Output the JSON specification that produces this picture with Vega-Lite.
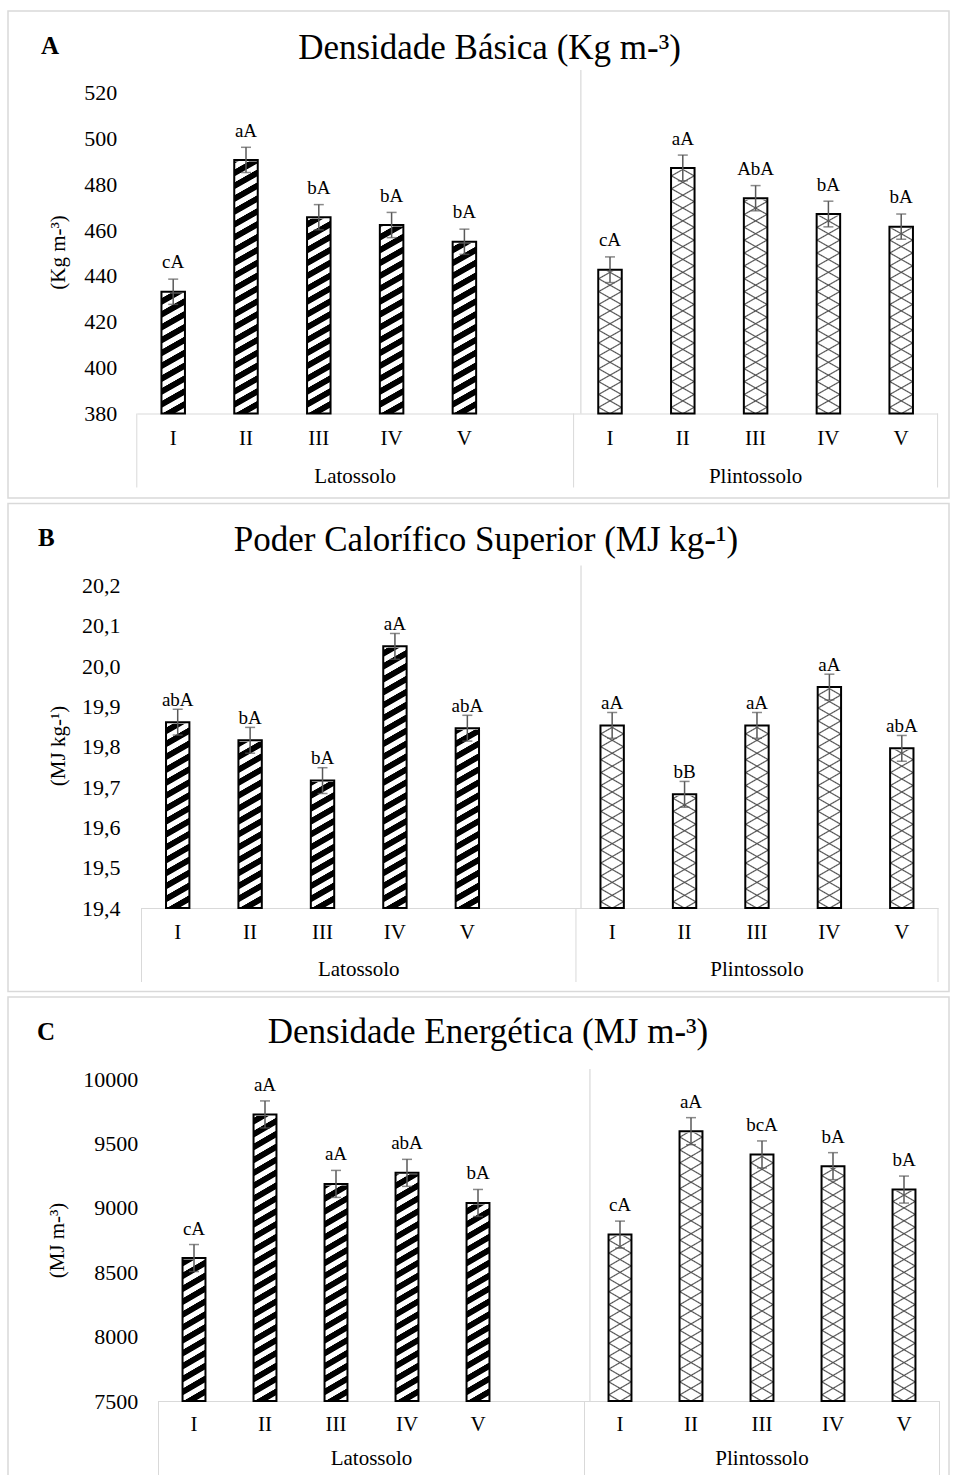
{
"$schema": "https://vega.github.io/schema/vega-lite/v6.json",
"padding": {"left": 7, "top": 10, "right": 4, "bottom": 0},
"spacing": 3.5,
"config": {
 "font": "Liberation Serif",
 "view": {"stroke": "#d9d9d9", "strokeWidth": 1.5},
 "axis": {"labelColor": "#000", "titleColor": "#000", "labelFont": "Liberation Serif", "titleFont": "Liberation Serif", "grid": false, "titleFontWeight": "normal"},
 "axisX": {"labelAlign": "center"},
 "title": {"font": "Liberation Serif", "fontSize": 35, "fontWeight": "normal", "color": "#000"},
 "text": {"color": "#000"},
 "style": {
  "listrado": {"color": {"gradient": "linear", "x1": 0, "y1": 0, "x2": 0.04307, "y2": 1.03965, "stops": [
{"offset":0.001,"color":"#000"},{"offset":0.019,"color":"#000"},{"offset":0.022,"color":"#fff"},{"offset":0.0375,"color":"#fff"},
{"offset":0.0395,"color":"#000"},{"offset":0.0575,"color":"#000"},{"offset":0.0605,"color":"#fff"},{"offset":0.076,"color":"#fff"},
{"offset":0.0779,"color":"#000"},{"offset":0.0959,"color":"#000"},{"offset":0.0989,"color":"#fff"},{"offset":0.1144,"color":"#fff"},
{"offset":0.1164,"color":"#000"},{"offset":0.1344,"color":"#000"},{"offset":0.1374,"color":"#fff"},{"offset":0.1529,"color":"#fff"},
{"offset":0.1549,"color":"#000"},{"offset":0.1729,"color":"#000"},{"offset":0.1759,"color":"#fff"},{"offset":0.1914,"color":"#fff"},
{"offset":0.1933,"color":"#000"},{"offset":0.2113,"color":"#000"},{"offset":0.2143,"color":"#fff"},{"offset":0.2298,"color":"#fff"},
{"offset":0.2318,"color":"#000"},{"offset":0.2498,"color":"#000"},{"offset":0.2528,"color":"#fff"},{"offset":0.2683,"color":"#fff"},
{"offset":0.2702,"color":"#000"},{"offset":0.2882,"color":"#000"},{"offset":0.2912,"color":"#fff"},{"offset":0.3067,"color":"#fff"},
{"offset":0.3087,"color":"#000"},{"offset":0.3267,"color":"#000"},{"offset":0.3297,"color":"#fff"},{"offset":0.3452,"color":"#fff"},
{"offset":0.3472,"color":"#000"},{"offset":0.3652,"color":"#000"},{"offset":0.3682,"color":"#fff"},{"offset":0.3837,"color":"#fff"},
{"offset":0.3856,"color":"#000"},{"offset":0.4036,"color":"#000"},{"offset":0.4066,"color":"#fff"},{"offset":0.4221,"color":"#fff"},
{"offset":0.4241,"color":"#000"},{"offset":0.4421,"color":"#000"},{"offset":0.4451,"color":"#fff"},{"offset":0.4606,"color":"#fff"},
{"offset":0.4625,"color":"#000"},{"offset":0.4805,"color":"#000"},{"offset":0.4835,"color":"#fff"},{"offset":0.499,"color":"#fff"},
{"offset":0.501,"color":"#000"},{"offset":0.519,"color":"#000"},{"offset":0.522,"color":"#fff"},{"offset":0.5375,"color":"#fff"},
{"offset":0.5395,"color":"#000"},{"offset":0.5575,"color":"#000"},{"offset":0.5605,"color":"#fff"},{"offset":0.576,"color":"#fff"},
{"offset":0.5779,"color":"#000"},{"offset":0.5959,"color":"#000"},{"offset":0.5989,"color":"#fff"},{"offset":0.6144,"color":"#fff"},
{"offset":0.6164,"color":"#000"},{"offset":0.6344,"color":"#000"},{"offset":0.6374,"color":"#fff"},{"offset":0.6529,"color":"#fff"},
{"offset":0.6549,"color":"#000"},{"offset":0.6729,"color":"#000"},{"offset":0.6759,"color":"#fff"},{"offset":0.6914,"color":"#fff"},
{"offset":0.6933,"color":"#000"},{"offset":0.7113,"color":"#000"},{"offset":0.7143,"color":"#fff"},{"offset":0.7298,"color":"#fff"},
{"offset":0.7318,"color":"#000"},{"offset":0.7498,"color":"#000"},{"offset":0.7528,"color":"#fff"},{"offset":0.7683,"color":"#fff"},
{"offset":0.7702,"color":"#000"},{"offset":0.7882,"color":"#000"},{"offset":0.7912,"color":"#fff"},{"offset":0.8067,"color":"#fff"},
{"offset":0.8087,"color":"#000"},{"offset":0.8267,"color":"#000"},{"offset":0.8297,"color":"#fff"},{"offset":0.8452,"color":"#fff"},
{"offset":0.8472,"color":"#000"},{"offset":0.8652,"color":"#000"},{"offset":0.8682,"color":"#fff"},{"offset":0.8837,"color":"#fff"},
{"offset":0.8856,"color":"#000"},{"offset":0.9036,"color":"#000"},{"offset":0.9066,"color":"#fff"},{"offset":0.9221,"color":"#fff"},
{"offset":0.9241,"color":"#000"},{"offset":0.9421,"color":"#000"},{"offset":0.9451,"color":"#fff"},{"offset":0.9606,"color":"#fff"},
{"offset":0.9625,"color":"#000"},{"offset":0.9805,"color":"#000"},{"offset":0.9835,"color":"#fff"},{"offset":0.999,"color":"#fff"}
  ]}},
  "trama1": {"color": {"gradient": "linear", "x1": 0, "y1": 0, "x2": 0.04307, "y2": 1.03965, "stops": [
{"offset":0.0154,"color":"rgba(77,77,77,0)"},{"offset":0.0192,"color":"#4d4d4d"},{"offset":0.0231,"color":"rgba(77,77,77,0)"},
{"offset":0.0539,"color":"rgba(77,77,77,0)"},{"offset":0.0577,"color":"#4d4d4d"},{"offset":0.0616,"color":"rgba(77,77,77,0)"},
{"offset":0.0923,"color":"rgba(77,77,77,0)"},{"offset":0.0961,"color":"#4d4d4d"},{"offset":0.1,"color":"rgba(77,77,77,0)"},
{"offset":0.1308,"color":"rgba(77,77,77,0)"},{"offset":0.1346,"color":"#4d4d4d"},{"offset":0.1385,"color":"rgba(77,77,77,0)"},
{"offset":0.1692,"color":"rgba(77,77,77,0)"},{"offset":0.1731,"color":"#4d4d4d"},{"offset":0.1769,"color":"rgba(77,77,77,0)"},
{"offset":0.2077,"color":"rgba(77,77,77,0)"},{"offset":0.2115,"color":"#4d4d4d"},{"offset":0.2154,"color":"rgba(77,77,77,0)"},
{"offset":0.2462,"color":"rgba(77,77,77,0)"},{"offset":0.25,"color":"#4d4d4d"},{"offset":0.2539,"color":"rgba(77,77,77,0)"},
{"offset":0.2846,"color":"rgba(77,77,77,0)"},{"offset":0.2884,"color":"#4d4d4d"},{"offset":0.2923,"color":"rgba(77,77,77,0)"},
{"offset":0.3231,"color":"rgba(77,77,77,0)"},{"offset":0.3269,"color":"#4d4d4d"},{"offset":0.3308,"color":"rgba(77,77,77,0)"},
{"offset":0.3616,"color":"rgba(77,77,77,0)"},{"offset":0.3654,"color":"#4d4d4d"},{"offset":0.3693,"color":"rgba(77,77,77,0)"},
{"offset":0.4,"color":"rgba(77,77,77,0)"},{"offset":0.4038,"color":"#4d4d4d"},{"offset":0.4077,"color":"rgba(77,77,77,0)"},
{"offset":0.4385,"color":"rgba(77,77,77,0)"},{"offset":0.4423,"color":"#4d4d4d"},{"offset":0.4462,"color":"rgba(77,77,77,0)"},
{"offset":0.4769,"color":"rgba(77,77,77,0)"},{"offset":0.4807,"color":"#4d4d4d"},{"offset":0.4846,"color":"rgba(77,77,77,0)"},
{"offset":0.5154,"color":"rgba(77,77,77,0)"},{"offset":0.5192,"color":"#4d4d4d"},{"offset":0.5231,"color":"rgba(77,77,77,0)"},
{"offset":0.5539,"color":"rgba(77,77,77,0)"},{"offset":0.5577,"color":"#4d4d4d"},{"offset":0.5616,"color":"rgba(77,77,77,0)"},
{"offset":0.5923,"color":"rgba(77,77,77,0)"},{"offset":0.5961,"color":"#4d4d4d"},{"offset":0.6,"color":"rgba(77,77,77,0)"},
{"offset":0.6308,"color":"rgba(77,77,77,0)"},{"offset":0.6346,"color":"#4d4d4d"},{"offset":0.6385,"color":"rgba(77,77,77,0)"},
{"offset":0.6692,"color":"rgba(77,77,77,0)"},{"offset":0.6731,"color":"#4d4d4d"},{"offset":0.6769,"color":"rgba(77,77,77,0)"},
{"offset":0.7077,"color":"rgba(77,77,77,0)"},{"offset":0.7115,"color":"#4d4d4d"},{"offset":0.7154,"color":"rgba(77,77,77,0)"},
{"offset":0.7462,"color":"rgba(77,77,77,0)"},{"offset":0.75,"color":"#4d4d4d"},{"offset":0.7539,"color":"rgba(77,77,77,0)"},
{"offset":0.7846,"color":"rgba(77,77,77,0)"},{"offset":0.7884,"color":"#4d4d4d"},{"offset":0.7923,"color":"rgba(77,77,77,0)"},
{"offset":0.8231,"color":"rgba(77,77,77,0)"},{"offset":0.8269,"color":"#4d4d4d"},{"offset":0.8308,"color":"rgba(77,77,77,0)"},
{"offset":0.8616,"color":"rgba(77,77,77,0)"},{"offset":0.8654,"color":"#4d4d4d"},{"offset":0.8693,"color":"rgba(77,77,77,0)"},
{"offset":0.9,"color":"rgba(77,77,77,0)"},{"offset":0.9038,"color":"#4d4d4d"},{"offset":0.9077,"color":"rgba(77,77,77,0)"},
{"offset":0.9385,"color":"rgba(77,77,77,0)"},{"offset":0.9423,"color":"#4d4d4d"},{"offset":0.9462,"color":"rgba(77,77,77,0)"},
{"offset":0.9769,"color":"rgba(77,77,77,0)"},{"offset":0.9807,"color":"#4d4d4d"},{"offset":0.9846,"color":"rgba(77,77,77,0)"}
  ]}},
  "trama2": {"color": {"gradient": "linear", "x1": 1, "y1": 0, "x2": 0.95693, "y2": 1.03965, "stops": [
{"offset":0.0154,"color":"rgba(77,77,77,0)"},{"offset":0.0192,"color":"#4d4d4d"},{"offset":0.0231,"color":"rgba(77,77,77,0)"},
{"offset":0.0539,"color":"rgba(77,77,77,0)"},{"offset":0.0577,"color":"#4d4d4d"},{"offset":0.0616,"color":"rgba(77,77,77,0)"},
{"offset":0.0923,"color":"rgba(77,77,77,0)"},{"offset":0.0961,"color":"#4d4d4d"},{"offset":0.1,"color":"rgba(77,77,77,0)"},
{"offset":0.1308,"color":"rgba(77,77,77,0)"},{"offset":0.1346,"color":"#4d4d4d"},{"offset":0.1385,"color":"rgba(77,77,77,0)"},
{"offset":0.1692,"color":"rgba(77,77,77,0)"},{"offset":0.1731,"color":"#4d4d4d"},{"offset":0.1769,"color":"rgba(77,77,77,0)"},
{"offset":0.2077,"color":"rgba(77,77,77,0)"},{"offset":0.2115,"color":"#4d4d4d"},{"offset":0.2154,"color":"rgba(77,77,77,0)"},
{"offset":0.2462,"color":"rgba(77,77,77,0)"},{"offset":0.25,"color":"#4d4d4d"},{"offset":0.2539,"color":"rgba(77,77,77,0)"},
{"offset":0.2846,"color":"rgba(77,77,77,0)"},{"offset":0.2884,"color":"#4d4d4d"},{"offset":0.2923,"color":"rgba(77,77,77,0)"},
{"offset":0.3231,"color":"rgba(77,77,77,0)"},{"offset":0.3269,"color":"#4d4d4d"},{"offset":0.3308,"color":"rgba(77,77,77,0)"},
{"offset":0.3616,"color":"rgba(77,77,77,0)"},{"offset":0.3654,"color":"#4d4d4d"},{"offset":0.3693,"color":"rgba(77,77,77,0)"},
{"offset":0.4,"color":"rgba(77,77,77,0)"},{"offset":0.4038,"color":"#4d4d4d"},{"offset":0.4077,"color":"rgba(77,77,77,0)"},
{"offset":0.4385,"color":"rgba(77,77,77,0)"},{"offset":0.4423,"color":"#4d4d4d"},{"offset":0.4462,"color":"rgba(77,77,77,0)"},
{"offset":0.4769,"color":"rgba(77,77,77,0)"},{"offset":0.4807,"color":"#4d4d4d"},{"offset":0.4846,"color":"rgba(77,77,77,0)"},
{"offset":0.5154,"color":"rgba(77,77,77,0)"},{"offset":0.5192,"color":"#4d4d4d"},{"offset":0.5231,"color":"rgba(77,77,77,0)"},
{"offset":0.5539,"color":"rgba(77,77,77,0)"},{"offset":0.5577,"color":"#4d4d4d"},{"offset":0.5616,"color":"rgba(77,77,77,0)"},
{"offset":0.5923,"color":"rgba(77,77,77,0)"},{"offset":0.5961,"color":"#4d4d4d"},{"offset":0.6,"color":"rgba(77,77,77,0)"},
{"offset":0.6308,"color":"rgba(77,77,77,0)"},{"offset":0.6346,"color":"#4d4d4d"},{"offset":0.6385,"color":"rgba(77,77,77,0)"},
{"offset":0.6692,"color":"rgba(77,77,77,0)"},{"offset":0.6731,"color":"#4d4d4d"},{"offset":0.6769,"color":"rgba(77,77,77,0)"},
{"offset":0.7077,"color":"rgba(77,77,77,0)"},{"offset":0.7115,"color":"#4d4d4d"},{"offset":0.7154,"color":"rgba(77,77,77,0)"},
{"offset":0.7462,"color":"rgba(77,77,77,0)"},{"offset":0.75,"color":"#4d4d4d"},{"offset":0.7539,"color":"rgba(77,77,77,0)"},
{"offset":0.7846,"color":"rgba(77,77,77,0)"},{"offset":0.7884,"color":"#4d4d4d"},{"offset":0.7923,"color":"rgba(77,77,77,0)"},
{"offset":0.8231,"color":"rgba(77,77,77,0)"},{"offset":0.8269,"color":"#4d4d4d"},{"offset":0.8308,"color":"rgba(77,77,77,0)"},
{"offset":0.8616,"color":"rgba(77,77,77,0)"},{"offset":0.8654,"color":"#4d4d4d"},{"offset":0.8693,"color":"rgba(77,77,77,0)"},
{"offset":0.9,"color":"rgba(77,77,77,0)"},{"offset":0.9038,"color":"#4d4d4d"},{"offset":0.9077,"color":"rgba(77,77,77,0)"},
{"offset":0.9385,"color":"rgba(77,77,77,0)"},{"offset":0.9423,"color":"#4d4d4d"},{"offset":0.9462,"color":"rgba(77,77,77,0)"},
{"offset":0.9769,"color":"rgba(77,77,77,0)"},{"offset":0.9807,"color":"#4d4d4d"},{"offset":0.9846,"color":"rgba(77,77,77,0)"}
  ]}}
 }
},
"datasets": {
 "densidade": [
  {"solo":"Latossolo","trat":"I","cat":"Latossolo-I","valor":433.1,"erro":5.5,"letra":"cA"},
  {"solo":"Latossolo","trat":"II","cat":"Latossolo-II","valor":490.6,"erro":5.5,"letra":"aA"},
  {"solo":"Latossolo","trat":"III","cat":"Latossolo-III","valor":465.6,"erro":5.5,"letra":"bA"},
  {"solo":"Latossolo","trat":"IV","cat":"Latossolo-IV","valor":462.2,"erro":5.5,"letra":"bA"},
  {"solo":"Latossolo","trat":"V","cat":"Latossolo-V","valor":454.9,"erro":5.5,"letra":"bA"},
  {"solo":"Plintossolo","trat":"I","cat":"Plintossolo-I","valor":442.7,"erro":5.6,"letra":"cA"},
  {"solo":"Plintossolo","trat":"II","cat":"Plintossolo-II","valor":487.1,"erro":5.6,"letra":"aA"},
  {"solo":"Plintossolo","trat":"III","cat":"Plintossolo-III","valor":473.9,"erro":5.5,"letra":"AbA"},
  {"solo":"Plintossolo","trat":"IV","cat":"Plintossolo-IV","valor":467.0,"erro":5.6,"letra":"bA"},
  {"solo":"Plintossolo","trat":"V","cat":"Plintossolo-V","valor":461.5,"erro":5.5,"letra":"bA"}
 ],
 "poder": [
  {"solo":"Latossolo","trat":"I","cat":"Latossolo-I","valor":19.861,"erro":0.032,"letra":"abA"},
  {"solo":"Latossolo","trat":"II","cat":"Latossolo-II","valor":19.816,"erro":0.032,"letra":"bA"},
  {"solo":"Latossolo","trat":"III","cat":"Latossolo-III","valor":19.716,"erro":0.032,"letra":"bA"},
  {"solo":"Latossolo","trat":"IV","cat":"Latossolo-IV","valor":20.049,"erro":0.032,"letra":"aA"},
  {"solo":"Latossolo","trat":"V","cat":"Latossolo-V","valor":19.846,"erro":0.032,"letra":"abA"},
  {"solo":"Plintossolo","trat":"I","cat":"Plintossolo-I","valor":19.853,"erro":0.032,"letra":"aA"},
  {"solo":"Plintossolo","trat":"II","cat":"Plintossolo-II","valor":19.682,"erro":0.032,"letra":"bB"},
  {"solo":"Plintossolo","trat":"III","cat":"Plintossolo-III","valor":19.853,"erro":0.032,"letra":"aA"},
  {"solo":"Plintossolo","trat":"IV","cat":"Plintossolo-IV","valor":19.948,"erro":0.032,"letra":"aA"},
  {"solo":"Plintossolo","trat":"V","cat":"Plintossolo-V","valor":19.796,"erro":0.032,"letra":"abA"}
 ],
 "energetica": [
  {"solo":"Latossolo","trat":"I","cat":"Latossolo-I","valor":8611,"erro":105,"letra":"cA"},
  {"solo":"Latossolo","trat":"II","cat":"Latossolo-II","valor":9727,"erro":105,"letra":"aA"},
  {"solo":"Latossolo","trat":"III","cat":"Latossolo-III","valor":9187,"erro":105,"letra":"aA"},
  {"solo":"Latossolo","trat":"IV","cat":"Latossolo-IV","valor":9273,"erro":105,"letra":"abA"},
  {"solo":"Latossolo","trat":"V","cat":"Latossolo-V","valor":9039,"erro":105,"letra":"bA"},
  {"solo":"Plintossolo","trat":"I","cat":"Plintossolo-I","valor":8793,"erro":105,"letra":"cA"},
  {"solo":"Plintossolo","trat":"II","cat":"Plintossolo-II","valor":9597,"erro":105,"letra":"aA"},
  {"solo":"Plintossolo","trat":"III","cat":"Plintossolo-III","valor":9416,"erro":105,"letra":"bcA"},
  {"solo":"Plintossolo","trat":"IV","cat":"Plintossolo-IV","valor":9325,"erro":105,"letra":"bA"},
  {"solo":"Plintossolo","trat":"V","cat":"Plintossolo-V","valor":9143,"erro":105,"letra":"bA"}
 ]
},
"vconcat": [
 {
  "width": 941, "height": 487,
  "data": {"name": "densidade"},
  "title": {"text": "Densidade Básica (Kg m-³)", "anchor": "middle", "frame": "group", "offset": -83.3, "baseline": "alphabetic", "dx": 11},
  "layer": [
   {"transform": [{"filter": "datum.solo == 'Latossolo'"}],
    "mark": {"type": "bar", "style": "listrado", "width": {"band": 0.3228}},
    "encoding": {"x": {"field": "cat", "type": "nominal"}, "y": {"datum": 380, "type": "quantitative"}, "y2": {"datum": 520}}},
   {"transform": [{"filter": "datum.solo == 'Plintossolo'"}],
    "mark": {"type": "bar", "style": "trama1", "width": {"band": 0.3228}},
    "encoding": {"x": {"field": "cat", "type": "nominal"}, "y": {"datum": 380, "type": "quantitative"}, "y2": {"datum": 520}}},
   {"transform": [{"filter": "datum.solo == 'Plintossolo'"}],
    "mark": {"type": "bar", "style": "trama2", "width": {"band": 0.3228}},
    "encoding": {"x": {"field": "cat", "type": "nominal"}, "y": {"datum": 380, "type": "quantitative"}, "y2": {"datum": 520}}},
   {"mark": {"type": "bar", "width": {"band": 0.3228}, "fill": "#fff", "stroke": "#fff", "strokeWidth": 3},
    "encoding": {"x": {"field": "cat", "type": "nominal"}, "y": {"field": "valor", "type": "quantitative", "title": "(Kg m-³)"}, "y2": {"datum": 520}}},
   {"mark": {"type": "bar", "width": {"band": 0.3228}, "fillOpacity": 0, "stroke": "#000", "strokeWidth": 2},
    "encoding": {
     "x": {"field": "cat", "type": "nominal",
      "scale": {"type": "band", "domain": ["Latossolo-I","Latossolo-II","Latossolo-III","Latossolo-IV","Latossolo-V","Latossolo-","Plintossolo-I","Plintossolo-II","Plintossolo-III","Plintossolo-IV","Plintossolo-V"], "range": [128.8, 929.6], "paddingInner": 0, "paddingOuter": 0},
      "axis": {"title": null, "offset": -84.5, "domainColor": "#d9d9d9", "domainWidth": 1, "ticks": false, "tickSize": 0, "labelPadding": 24.5, "labelBaseline": "middle", "labelAlign": "center", "labelAngle": 0, "labelFontSize": 21, "labelExpr": "split(datum.label, '-')[1]"}},
     "y": {"field": "valor", "type": "quantitative", "title": "(Kg m-³)",
      "scale": {"domain": [380, 520], "range": [402.5, 81.5], "zero": false, "nice": false},
      "axis": {"title": "(Kg m-³)", "offset": -128.8, "domain": false, "ticks": false, "tickSize": 0, "values": [380,400,420,440,460,480,500,520], "format": "d", "labelPadding": 20, "labelFontSize": 22, "titleFontSize": 21, "titleX": -78.8, "titleY": 241, "titleAngle": -90, "titleAlign": "center", "titleBaseline": "middle"}},
     "y2": {"datum": 380}}},
   {"mark": {"type": "errorbar", "ticks": true, "color": "#595959", "thickness": 1.5, "size": 10},
    "encoding": {"x": {"field": "cat", "type": "nominal"}, "y": {"field": "valor", "type": "quantitative", "title": "(Kg m-³)"}, "yError": {"field": "erro"}}},
   {"mark": {"type": "text", "dy": -23.3, "baseline": "alphabetic", "fontSize": 19},
    "encoding": {"x": {"field": "cat", "type": "nominal"}, "y": {"field": "valor", "type": "quantitative", "title": "(Kg m-³)"}, "text": {"field": "letra"}}},
   {"transform": [{"filter": "datum.cat == 'Plintossolo-I'"}],
    "mark": {"type": "rule", "color": "#d0d0d0", "strokeWidth": 1},
    "encoding": {"x": {"field": "cat", "type": "nominal", "bandPosition": 0.1}, "y": {"datum": 380, "type": "quantitative"}, "y2": {"datum": 529.8}}},
   {"transform": [{"filter": "datum.trat == 'I'"}],
    "mark": {"type": "rule", "color": "#d9d9d9", "strokeWidth": 1},
    "encoding": {"x": {"field": "cat", "type": "nominal", "bandPosition": 0}, "y": {"datum": 380, "type": "quantitative"}, "y2": {"datum": 347.73}}},
   {"transform": [{"filter": "datum.cat == 'Plintossolo-V'"}],
    "mark": {"type": "rule", "color": "#d9d9d9", "strokeWidth": 1},
    "encoding": {"x": {"field": "cat", "type": "nominal", "bandPosition": 1}, "y": {"datum": 380, "type": "quantitative"}, "y2": {"datum": 347.73}}},
   {"transform": [{"filter": "datum.cat == 'Latossolo-III'"}],
    "mark": {"type": "text", "fontSize": 21, "baseline": "middle"},
    "encoding": {"x": {"field": "cat", "type": "nominal", "bandPosition": 1}, "y": {"datum": 352.3, "type": "quantitative"}, "text": {"field": "solo"}}},
   {"transform": [{"filter": "datum.cat == 'Plintossolo-III'"}],
    "mark": {"type": "text", "fontSize": 21, "baseline": "middle"},
    "encoding": {"x": {"field": "cat", "type": "nominal", "bandPosition": 0.5}, "y": {"datum": 352.3, "type": "quantitative"}, "text": {"field": "solo"}}},
   {"transform": [{"filter": "datum.cat == 'Latossolo-I'"}],
    "mark": {"type": "text", "text": "A", "fontSize": 25, "fontWeight": "bold", "align": "left", "baseline": "alphabetic"},
    "encoding": {"x": {"field": "cat", "type": "nominal", "bandPosition": -1.316}, "y": {"datum": 536.8, "type": "quantitative"}}}
  ]
 },
 {
  "width": 941, "height": 488,
  "data": {"name": "poder"},
  "title": {"text": "Poder Calorífico Superior (MJ kg-¹)", "anchor": "middle", "frame": "group", "offset": -82, "baseline": "alphabetic", "dx": 7.5},
  "layer": [
   {"transform": [{"filter": "datum.solo == 'Latossolo'"}],
    "mark": {"type": "bar", "style": "listrado", "width": {"band": 0.3228}},
    "encoding": {"x": {"field": "cat", "type": "nominal"}, "y": {"datum": 19.4, "type": "quantitative"}, "y2": {"datum": 20.2}}},
   {"transform": [{"filter": "datum.solo == 'Plintossolo'"}],
    "mark": {"type": "bar", "style": "trama1", "width": {"band": 0.3228}},
    "encoding": {"x": {"field": "cat", "type": "nominal"}, "y": {"datum": 19.4, "type": "quantitative"}, "y2": {"datum": 20.2}}},
   {"transform": [{"filter": "datum.solo == 'Plintossolo'"}],
    "mark": {"type": "bar", "style": "trama2", "width": {"band": 0.3228}},
    "encoding": {"x": {"field": "cat", "type": "nominal"}, "y": {"datum": 19.4, "type": "quantitative"}, "y2": {"datum": 20.2}}},
   {"mark": {"type": "bar", "width": {"band": 0.3228}, "fill": "#fff", "stroke": "#fff", "strokeWidth": 3},
    "encoding": {"x": {"field": "cat", "type": "nominal"}, "y": {"field": "valor", "type": "quantitative", "title": "(MJ kg-¹)"}, "y2": {"datum": 20.2}}},
   {"mark": {"type": "bar", "width": {"band": 0.3228}, "fillOpacity": 0, "stroke": "#000", "strokeWidth": 2},
    "encoding": {
     "x": {"field": "cat", "type": "nominal",
      "scale": {"type": "band", "domain": ["Latossolo-I","Latossolo-II","Latossolo-III","Latossolo-IV","Latossolo-V","Latossolo-","Plintossolo-I","Plintossolo-II","Plintossolo-III","Plintossolo-IV","Plintossolo-V"], "range": [133.5, 930], "paddingInner": 0, "paddingOuter": 0},
      "axis": {"title": null, "offset": -83.5, "domainColor": "#d9d9d9", "domainWidth": 1, "ticks": false, "tickSize": 0, "labelPadding": 24.2, "labelBaseline": "middle", "labelAlign": "center", "labelAngle": 0, "labelFontSize": 21, "labelExpr": "split(datum.label, '-')[1]"}},
     "y": {"field": "valor", "type": "quantitative", "title": "(MJ kg-¹)",
      "scale": {"domain": [19.4, 20.2], "range": [404.5, 82], "zero": false, "nice": false},
      "axis": {"title": "(MJ kg-¹)", "offset": -133.5, "domain": false, "ticks": false, "tickSize": 0, "values": [19.4,19.5,19.6,19.7,19.8,19.9,20.0,20.1,20.2], "labelExpr": "replace(format(datum.value, '.1f'), '.', ',')", "labelPadding": 21.5, "labelFontSize": 22, "titleFontSize": 21, "titleX": -83, "titleY": 242, "titleAngle": -90, "titleAlign": "center", "titleBaseline": "middle"}},
     "y2": {"datum": 19.4}}},
   {"mark": {"type": "errorbar", "ticks": true, "color": "#595959", "thickness": 1.5, "size": 10},
    "encoding": {"x": {"field": "cat", "type": "nominal"}, "y": {"field": "valor", "type": "quantitative", "title": "(MJ kg-¹)"}, "yError": {"field": "erro"}}},
   {"mark": {"type": "text", "dy": -16.4, "baseline": "alphabetic", "fontSize": 19},
    "encoding": {"x": {"field": "cat", "type": "nominal"}, "y": {"field": "valor", "type": "quantitative", "title": "(MJ kg-¹)"}, "text": {"field": "letra"}}},
   {"transform": [{"filter": "datum.cat == 'Plintossolo-I'"}],
    "mark": {"type": "rule", "color": "#d0d0d0", "strokeWidth": 1},
    "encoding": {"x": {"field": "cat", "type": "nominal", "bandPosition": 0.07}, "y": {"datum": 19.4, "type": "quantitative"}, "y2": {"datum": 20.2496}}},
   {"transform": [{"filter": "datum.trat == 'I'"}],
    "mark": {"type": "rule", "color": "#d9d9d9", "strokeWidth": 1},
    "encoding": {"x": {"field": "cat", "type": "nominal", "bandPosition": 0}, "y": {"datum": 19.4, "type": "quantitative"}, "y2": {"datum": 19.2164}}},
   {"transform": [{"filter": "datum.cat == 'Plintossolo-V'"}],
    "mark": {"type": "rule", "color": "#d9d9d9", "strokeWidth": 1},
    "encoding": {"x": {"field": "cat", "type": "nominal", "bandPosition": 1}, "y": {"datum": 19.4, "type": "quantitative"}, "y2": {"datum": 19.2164}}},
   {"transform": [{"filter": "datum.cat == 'Latossolo-III'"}],
    "mark": {"type": "text", "fontSize": 21, "baseline": "middle"},
    "encoding": {"x": {"field": "cat", "type": "nominal", "bandPosition": 1}, "y": {"datum": 19.2467, "type": "quantitative"}, "text": {"field": "solo"}}},
   {"transform": [{"filter": "datum.cat == 'Plintossolo-III'"}],
    "mark": {"type": "text", "fontSize": 21, "baseline": "middle"},
    "encoding": {"x": {"field": "cat", "type": "nominal", "bandPosition": 0.5}, "y": {"datum": 19.2467, "type": "quantitative"}, "text": {"field": "solo"}}},
   {"transform": [{"filter": "datum.cat == 'Latossolo-I'"}],
    "mark": {"type": "text", "text": "B", "fontSize": 25, "fontWeight": "bold", "align": "left", "baseline": "alphabetic"},
    "encoding": {"x": {"field": "cat", "type": "nominal", "bandPosition": -1.429}, "y": {"datum": 20.2992, "type": "quantitative"}}}
  ]
 },
 {
  "width": 941, "height": 484,
  "data": {"name": "energetica"},
  "title": {"text": "Densidade Energética (MJ m-³)", "anchor": "middle", "frame": "group", "offset": -80.7, "baseline": "alphabetic", "dx": 9.5},
  "layer": [
   {"transform": [{"filter": "datum.solo == 'Latossolo'"}],
    "mark": {"type": "bar", "style": "listrado", "width": {"band": 0.3228}},
    "encoding": {"x": {"field": "cat", "type": "nominal"}, "y": {"datum": 7500, "type": "quantitative"}, "y2": {"datum": 10000}}},
   {"transform": [{"filter": "datum.solo == 'Plintossolo'"}],
    "mark": {"type": "bar", "style": "trama1", "width": {"band": 0.3228}},
    "encoding": {"x": {"field": "cat", "type": "nominal"}, "y": {"datum": 7500, "type": "quantitative"}, "y2": {"datum": 10000}}},
   {"transform": [{"filter": "datum.solo == 'Plintossolo'"}],
    "mark": {"type": "bar", "style": "trama2", "width": {"band": 0.3228}},
    "encoding": {"x": {"field": "cat", "type": "nominal"}, "y": {"datum": 7500, "type": "quantitative"}, "y2": {"datum": 10000}}},
   {"mark": {"type": "bar", "width": {"band": 0.3228}, "fill": "#fff", "stroke": "#fff", "strokeWidth": 3},
    "encoding": {"x": {"field": "cat", "type": "nominal"}, "y": {"field": "valor", "type": "quantitative", "title": "(MJ m-³)"}, "y2": {"datum": 10000}}},
   {"mark": {"type": "bar", "width": {"band": 0.3228}, "fillOpacity": 0, "stroke": "#000", "strokeWidth": 2},
    "encoding": {
     "x": {"field": "cat", "type": "nominal",
      "scale": {"type": "band", "domain": ["Latossolo-I","Latossolo-II","Latossolo-III","Latossolo-IV","Latossolo-V","Latossolo-","Plintossolo-I","Plintossolo-II","Plintossolo-III","Plintossolo-IV","Plintossolo-V"], "range": [150.5, 931.5], "paddingInner": 0, "paddingOuter": 0},
      "axis": {"title": null, "offset": -80, "domainColor": "#d9d9d9", "domainWidth": 1, "ticks": false, "tickSize": 0, "labelPadding": 23.3, "labelBaseline": "middle", "labelAlign": "center", "labelAngle": 0, "labelFontSize": 21, "labelExpr": "split(datum.label, '-')[1]"}},
     "y": {"field": "valor", "type": "quantitative", "title": "(MJ m-³)",
      "scale": {"domain": [7500, 10000], "range": [404, 82.3], "zero": false, "nice": false},
      "axis": {"title": "(MJ m-³)", "offset": -150.5, "domain": false, "ticks": false, "tickSize": 0, "values": [7500,8000,8500,9000,9500,10000], "format": "d", "labelPadding": 20.8, "labelFontSize": 22, "titleFontSize": 21, "titleX": -101, "titleY": 243, "titleAngle": -90, "titleAlign": "center", "titleBaseline": "middle"}},
     "y2": {"datum": 7500}}},
   {"mark": {"type": "errorbar", "ticks": true, "color": "#595959", "thickness": 1.5, "size": 10},
    "encoding": {"x": {"field": "cat", "type": "nominal"}, "y": {"field": "valor", "type": "quantitative", "title": "(MJ m-³)"}, "yError": {"field": "erro"}}},
   {"mark": {"type": "text", "dy": -23.5, "baseline": "alphabetic", "fontSize": 19},
    "encoding": {"x": {"field": "cat", "type": "nominal"}, "y": {"field": "valor", "type": "quantitative", "title": "(MJ m-³)"}, "text": {"field": "letra"}}},
   {"transform": [{"filter": "datum.cat == 'Plintossolo-I'"}],
    "mark": {"type": "rule", "color": "#d0d0d0", "strokeWidth": 1},
    "encoding": {"x": {"field": "cat", "type": "nominal", "bandPosition": 0.077}, "y": {"datum": 7500, "type": "quantitative"}, "y2": {"datum": 10080}}},
   {"transform": [{"filter": "datum.trat == 'I'"}],
    "mark": {"type": "rule", "color": "#d9d9d9", "strokeWidth": 1},
    "encoding": {"x": {"field": "cat", "type": "nominal", "bandPosition": 0}, "y": {"datum": 7500, "type": "quantitative"}, "y2": {"datum": 6925}}},
   {"transform": [{"filter": "datum.cat == 'Plintossolo-V'"}],
    "mark": {"type": "rule", "color": "#d9d9d9", "strokeWidth": 1},
    "encoding": {"x": {"field": "cat", "type": "nominal", "bandPosition": 1}, "y": {"datum": 7500, "type": "quantitative"}, "y2": {"datum": 6925}}},
   {"transform": [{"filter": "datum.cat == 'Latossolo-III'"}],
    "mark": {"type": "text", "fontSize": 21, "baseline": "middle"},
    "encoding": {"x": {"field": "cat", "type": "nominal", "bandPosition": 1}, "y": {"datum": 7047, "type": "quantitative"}, "text": {"field": "solo"}}},
   {"transform": [{"filter": "datum.cat == 'Plintossolo-III'"}],
    "mark": {"type": "text", "fontSize": 21, "baseline": "middle"},
    "encoding": {"x": {"field": "cat", "type": "nominal", "bandPosition": 0.5}, "y": {"datum": 7047, "type": "quantitative"}, "text": {"field": "solo"}}},
   {"transform": [{"filter": "datum.cat == 'Latossolo-I'"}],
    "mark": {"type": "text", "text": "C", "fontSize": 25, "fontWeight": "bold", "align": "left", "baseline": "alphabetic"},
    "encoding": {"x": {"field": "cat", "type": "nominal", "bandPosition": -1.711}, "y": {"datum": 10303, "type": "quantitative"}}}
  ]
 }
]
}
